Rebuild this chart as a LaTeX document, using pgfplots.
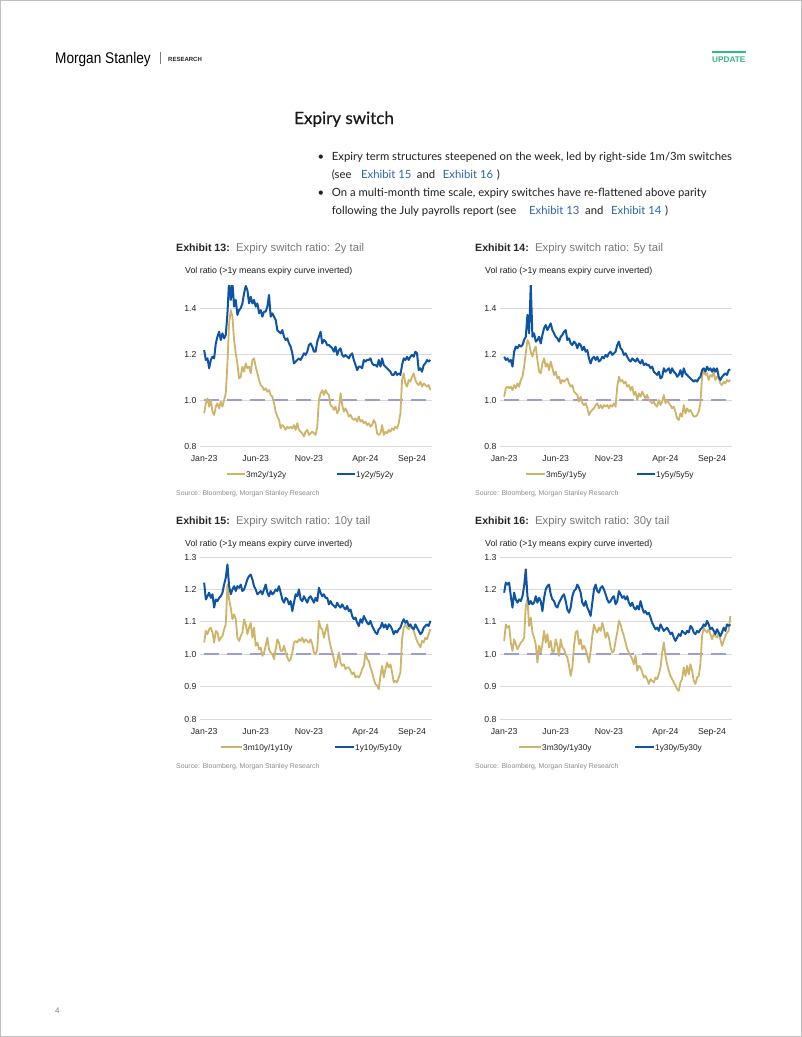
\documentclass[border=0pt]{standalone}
\usepackage{fontspec}
\usepackage{pgfplots}
\pgfplotsset{compat=1.18}
\usepackage{pgfplotstable}
\setmainfont{Liberation Sans}
\newfontfamily\bodyfont{Lato}
\newfontfamily\headfont[FakeBold=0.5]{Lato}
\definecolor{msgold}{RGB}{206,180,104}
\definecolor{msblue}{RGB}{14,84,164}
\definecolor{mslav}{RGB}{156,156,219}
\definecolor{msgrid}{RGB}{217,217,217}
\definecolor{mslink}{RGB}{46,100,176}
\definecolor{msgreen}{RGB}{52,184,130}
\definecolor{mstitle}{RGB}{38,38,38}
\definecolor{mssub}{RGB}{120,120,120}
\definecolor{mssrc}{RGB}{140,140,140}

\pgfplotstableread{
i b13 g13 b14 g14 b15 g15 b16 g16
0 1.217 0.942 1.188 1.014 1.221 1.036 1.190 1.041
1 1.174 0.986 1.174 1.051 1.169 1.072 1.221 1.092
2 1.181 1.007 1.181 1.058 1.179 1.062 1.215 1.082
3 1.138 0.971 1.167 1.051 1.190 1.077 1.221 1.087
4 1.174 1.000 1.174 1.058 1.174 1.082 1.179 1.036
5 1.188 0.949 1.145 1.043 1.185 1.067 1.144 1.010
6 1.181 0.935 1.210 1.065 1.144 1.036 1.190 1.046
7 1.246 0.971 1.232 1.051 1.169 1.072 1.169 1.031
8 1.275 0.986 1.225 1.072 1.164 1.067 1.159 1.015
9 1.297 0.964 1.239 1.058 1.174 1.041 1.169 1.026
10 1.261 0.993 1.232 1.087 1.179 1.051 1.164 1.036
11 1.290 0.971 1.239 1.101 1.190 1.056 1.179 1.041
12 1.268 1.000 1.261 1.145 1.215 1.077 1.210 1.051
13 1.283 1.029 1.275 1.203 1.236 1.092 1.262 1.149
14 1.377 1.159 1.370 1.261 1.277 1.215 1.179 1.169
15 1.520 1.333 1.290 1.246 1.210 1.169 1.154 1.087
16 1.435 1.391 1.500 1.210 1.185 1.144 1.164 1.113
17 1.510 1.362 1.275 1.188 1.200 1.108 1.154 1.067
18 1.406 1.261 1.290 1.217 1.210 1.123 1.159 1.051
19 1.435 1.203 1.254 1.232 1.195 1.108 1.179 1.031
20 1.370 1.159 1.261 1.174 1.210 1.051 1.159 0.974
21 1.391 1.094 1.275 1.123 1.205 1.041 1.174 1.026
22 1.399 1.101 1.246 1.116 1.215 1.056 1.164 1.005
23 1.420 1.145 1.283 1.159 1.195 1.067 1.133 1.031
24 1.464 1.123 1.312 1.181 1.200 1.108 1.174 1.072
25 1.496 1.159 1.326 1.145 1.215 1.092 1.200 1.036
26 1.478 1.138 1.304 1.159 1.231 1.062 1.210 1.062
27 1.420 1.145 1.319 1.130 1.241 1.082 1.215 1.021
28 1.449 1.116 1.333 1.167 1.246 1.097 1.185 1.041
29 1.420 1.174 1.304 1.138 1.231 1.051 1.169 1.005
30 1.435 1.181 1.290 1.109 1.210 1.082 1.164 1.010
31 1.406 1.145 1.275 1.123 1.200 1.026 1.149 1.046
32 1.420 1.116 1.268 1.094 1.185 1.036 1.144 1.026
33 1.377 1.087 1.254 1.101 1.190 1.015 1.159 0.995
34 1.391 1.065 1.275 1.072 1.195 1.021 1.169 1.046
35 1.362 1.058 1.283 1.087 1.185 0.995 1.179 1.021
36 1.384 1.043 1.297 1.080 1.200 1.005 1.185 1.015
37 1.384 1.051 1.304 1.087 1.215 1.026 1.164 1.000
38 1.406 1.036 1.261 1.094 1.190 1.051 1.138 0.990
39 1.457 1.043 1.268 1.072 1.179 1.015 1.128 0.964
40 1.362 1.022 1.246 1.058 1.195 1.005 1.144 0.933
41 1.377 1.014 1.239 1.065 1.185 1.000 1.179 0.959
42 1.362 0.986 1.254 1.036 1.190 0.985 1.195 1.026
43 1.348 0.949 1.246 1.029 1.200 1.015 1.200 1.067
44 1.304 0.928 1.225 1.022 1.195 1.046 1.215 1.072
45 1.297 0.913 1.246 0.993 1.210 1.036 1.205 1.031
46 1.290 0.877 1.239 1.014 1.190 1.010 1.190 1.046
47 1.304 0.891 1.217 0.986 1.169 1.010 1.159 1.015
48 1.275 0.884 1.232 0.978 1.159 1.026 1.149 1.026
49 1.261 0.870 1.210 0.986 1.174 1.005 1.164 1.015
50 1.268 0.884 1.217 0.964 1.169 0.990 1.144 0.995
51 1.246 0.877 1.181 0.935 1.154 0.979 1.133 0.974
52 1.232 0.884 1.159 0.949 1.164 0.985 1.118 1.010
53 1.203 0.877 1.181 0.957 1.133 1.005 1.159 1.056
54 1.159 0.891 1.188 0.964 1.159 1.036 1.200 1.092
55 1.167 0.870 1.174 0.978 1.185 1.041 1.215 1.077
56 1.174 0.899 1.188 0.986 1.179 1.036 1.195 1.067
57 1.181 0.870 1.167 0.964 1.200 1.046 1.190 1.082
58 1.174 0.862 1.174 0.978 1.169 1.041 1.205 1.072
59 1.188 0.855 1.188 0.964 1.164 1.051 1.210 1.097
60 1.203 0.841 1.181 0.978 1.179 1.036 1.200 1.077
61 1.196 0.862 1.196 0.971 1.169 1.046 1.185 1.051
62 1.210 0.870 1.188 0.978 1.159 1.041 1.169 1.067
63 1.239 0.848 1.203 0.964 1.174 1.036 1.159 1.051
64 1.246 0.855 1.210 0.978 1.179 1.046 1.164 1.021
65 1.232 0.862 1.196 0.971 1.169 1.031 1.174 1.005
66 1.210 0.855 1.203 0.986 1.159 1.005 1.179 1.010
67 1.210 0.848 1.210 0.971 1.174 1.000 1.154 1.041
68 1.254 0.884 1.239 1.058 1.164 1.015 1.164 1.067
69 1.275 1.000 1.254 1.101 1.205 1.103 1.195 1.103
70 1.297 1.029 1.225 1.080 1.190 1.082 1.185 1.092
71 1.246 1.043 1.217 1.087 1.179 1.077 1.174 1.072
72 1.261 1.022 1.196 1.072 1.185 1.051 1.179 1.056
73 1.254 1.043 1.203 1.080 1.174 1.072 1.169 1.036
74 1.239 1.029 1.188 1.058 1.174 1.092 1.179 1.015
75 1.239 1.022 1.174 1.065 1.154 1.051 1.159 1.005
76 1.232 0.978 1.167 1.043 1.164 1.026 1.149 0.995
77 1.225 0.971 1.181 1.058 1.154 1.005 1.159 0.985
78 1.210 0.957 1.174 1.022 1.149 0.985 1.144 0.969
79 1.232 0.971 1.167 1.036 1.144 0.959 1.138 0.995
80 1.196 0.942 1.181 1.000 1.159 0.979 1.149 0.949
81 1.217 0.957 1.167 1.029 1.149 1.005 1.138 0.964
82 1.225 1.029 1.159 1.014 1.144 0.974 1.164 0.959
83 1.196 0.978 1.174 1.036 1.154 0.964 1.144 0.944
84 1.188 0.949 1.152 1.022 1.144 0.969 1.128 0.928
85 1.196 0.964 1.159 1.007 1.138 0.954 1.133 0.933
86 1.188 0.949 1.152 1.022 1.149 0.959 1.123 0.923
87 1.181 0.928 1.152 1.000 1.133 0.959 1.128 0.908
88 1.196 0.935 1.138 0.993 1.138 0.949 1.113 0.923
89 1.203 0.920 1.145 0.986 1.118 0.938 1.097 0.918
90 1.174 0.913 1.123 0.993 1.108 0.944 1.087 0.913
91 1.152 0.920 1.116 0.978 1.113 0.928 1.077 0.928
92 1.130 0.906 1.109 0.971 1.097 0.933 1.082 0.923
93 1.145 0.928 1.123 1.000 1.087 0.928 1.072 0.938
94 1.145 0.906 1.094 0.978 1.108 0.938 1.092 0.959
95 1.138 0.913 1.101 0.993 1.097 0.954 1.082 1.005
96 1.174 0.899 1.138 1.022 1.118 0.964 1.072 1.036
97 1.167 0.906 1.123 0.986 1.108 1.005 1.077 0.995
98 1.174 0.891 1.130 1.000 1.097 0.985 1.082 0.969
99 1.174 0.899 1.138 0.986 1.092 0.979 1.072 0.949
100 1.181 0.884 1.116 0.978 1.103 0.959 1.062 0.933
101 1.159 0.891 1.138 0.964 1.087 0.944 1.067 0.923
102 1.152 0.913 1.123 0.971 1.077 0.923 1.051 0.913
103 1.152 0.899 1.116 0.949 1.067 0.908 1.041 0.903
104 1.145 0.855 1.101 0.920 1.062 0.903 1.051 0.892
105 1.174 0.848 1.109 0.913 1.077 0.892 1.062 0.887
106 1.145 0.855 1.130 0.942 1.082 0.933 1.056 0.913
107 1.181 0.891 1.101 0.928 1.097 0.964 1.072 0.923
108 1.152 0.848 1.138 0.978 1.082 0.928 1.067 0.959
109 1.145 0.862 1.116 0.942 1.092 0.954 1.062 0.933
110 1.138 0.855 1.109 0.964 1.077 0.974 1.072 0.964
111 1.130 0.870 1.101 0.949 1.092 0.959 1.067 0.938
112 1.123 0.862 1.094 0.957 1.087 0.969 1.087 0.969
113 1.109 0.877 1.087 0.942 1.077 0.944 1.082 0.949
114 1.109 0.870 1.080 0.928 1.062 0.913 1.067 0.918
115 1.123 0.884 1.087 0.928 1.072 0.918 1.062 0.908
116 1.109 0.877 1.080 0.935 1.067 0.913 1.072 0.928
117 1.116 0.899 1.094 0.949 1.077 0.928 1.067 0.933
118 1.109 0.942 1.101 0.986 1.082 0.944 1.077 0.969
119 1.152 1.087 1.130 1.101 1.097 1.046 1.082 1.056
120 1.181 1.116 1.138 1.130 1.108 1.082 1.092 1.082
121 1.174 1.072 1.123 1.109 1.097 1.092 1.087 1.072
122 1.188 1.058 1.145 1.116 1.103 1.082 1.103 1.067
123 1.174 1.087 1.130 1.087 1.087 1.077 1.092 1.077
124 1.188 1.080 1.138 1.109 1.092 1.087 1.077 1.062
125 1.196 1.101 1.123 1.101 1.082 1.082 1.082 1.046
126 1.188 1.116 1.138 1.123 1.077 1.072 1.072 1.062
127 1.210 1.087 1.123 1.087 1.092 1.056 1.062 1.056
128 1.203 1.072 1.138 1.101 1.082 1.041 1.077 1.051
129 1.130 1.065 1.101 1.094 1.072 1.031 1.067 1.067
130 1.138 1.080 1.087 1.072 1.062 1.021 1.056 1.046
131 1.123 1.058 1.101 1.065 1.067 1.041 1.067 1.026
132 1.152 1.072 1.109 1.080 1.082 1.036 1.082 1.041
133 1.159 1.065 1.116 1.072 1.087 1.051 1.072 1.056
134 1.174 1.058 1.109 1.087 1.092 1.046 1.092 1.067
135 1.167 1.065 1.130 1.080 1.087 1.062 1.087 1.072
136 1.174 1.043 1.133 1.087 1.103 1.077 1.092 1.118
}\data

\pgfkeys{/pgf/number format/assume math mode=true}
\pgfplotsset{expiry/.style={
  scale only axis, width=232pt, anchor=south west,
  xmin=-2.5, xmax=137,
  axis line style={draw=none},
  tick style={draw=none}, major tick length=0pt,
  ymajorgrids, grid style={msgrid, line width=0.8pt},
  xtick={0,31,63,97,125},
  xticklabels={Jan-23,Jun-23,Nov-23,Apr-24,Sep-24},
  ticklabel style={font=\fontsize{8.7}{10}\selectfont, text=black!85},
  xticklabel style={yshift=-6pt},
  yticklabel style={/pgf/number format/fixed, /pgf/number format/fixed zerofill, /pgf/number format/precision=1},
  every axis plot/.append style={line join=round},
}}
\tikzset{parity/.style={mslav, line width=1.8pt, dash pattern=on 15pt off 8pt}}

\begin{document}
\begin{tikzpicture}
\useasboundingbox (0,0) rectangle (802pt,-1037pt);
\fill[white] (0,0) rectangle (802pt,-1037pt);
\draw[black!25, line width=0.8pt] (0.4pt,-0.4pt) rectangle (801.6pt,-1036.6pt);

% header
\node[anchor=base west, inner sep=0, font=\fontsize{15.5}{16}\selectfont, xscale=0.88, text=black] at (55pt,-63pt) {Morgan Stanley};
\draw[black!50, line width=0.6pt] (160pt,-52pt) -- (160pt,-64pt);
\node[anchor=base west, inner sep=0, font=\bfseries\fontsize{6}{7}\selectfont, text=black!85] at (168pt,-61pt) {RESEARCH};
\fill[msgreen] (712pt,-50.5pt) rectangle (746pt,-52.5pt);
\node[anchor=base west, inner sep=0, font=\bfseries\fontsize{8.2}{9}\selectfont, text=msgreen] at (712pt,-62pt) {UPDATE};

% section text
\node[anchor=base west, inner sep=0, font=\headfont\fontsize{17}{20}\selectfont, text=black!90] at (294pt,-124pt) {Expiry switch};
\begin{scope}[every node/.style={anchor=base west, inner sep=0, font=\bodyfont\fontsize{11.3}{13}\selectfont, text=black!88}]
\node[anchor=base] at (321pt,-160pt) {\textbullet};
\node at (331.7pt,-160pt) {Expiry term structures steepened on the week, led by right-side 1m/3m switches};
\node at (331.7pt,-178pt) {(see};
\node[text=mslink] at (361pt,-178pt) {Exhibit 15};
\node at (416.7pt,-178pt) {and};
\node[text=mslink] at (442.7pt,-178pt) {Exhibit 16};
\node at (496.7pt,-178pt) {)};
\node[anchor=base] at (321pt,-196.5pt) {\textbullet};
\node at (331.7pt,-196.5pt) {On a multi-month time scale, expiry switches have re-flattened above parity};
\node at (331.7pt,-214.5pt) {following the July payrolls report (see};
\node[text=mslink] at (529pt,-214.5pt) {Exhibit 13};
\node at (585pt,-214.5pt) {and};
\node[text=mslink] at (611pt,-214.5pt) {Exhibit 14};
\node at (665pt,-214.5pt) {)};
\end{scope}

\tikzset{ttl/.style={anchor=base west, inner sep=0, font=\bfseries\fontsize{10.6}{12}\selectfont, text=mstitle},
  sub/.style={anchor=base west, inner sep=0, font=\fontsize{11.3}{13}\selectfont, text=mssub},
  vr/.style={anchor=base west, inner sep=0, font=\fontsize{8.8}{10}\selectfont, text=black!88},
  lg/.style={anchor=base west, inner sep=0, font=\fontsize{8.3}{9}\selectfont, text=black!88},
  src/.style={anchor=base west, inner sep=0, font=\fontsize{6.9}{8}\selectfont, text=mssrc}}

% ---------- Exhibit 13
\node[ttl] at (176pt,-251pt) {Exhibit 13:};
\node[sub] at (236pt,-251pt) {Expiry switch ratio: 2y tail};
\node[vr] at (185pt,-273.8pt) {Vol ratio (>1y means expiry curve inverted)};
\begin{axis}[expiry, at={(200pt,-446pt)}, height=161pt, ymin=0.8, ymax=1.5, ytick={0.8,1.0,1.2,1.4}]
\addplot[parity] coordinates {(0,1) (136,1)};
\addplot[msgold, line width=1.8pt] table[x=i, y=g13] {\data};
\addplot[msblue, line width=2pt] table[x=i, y=b13] {\data};
\end{axis}
\draw[msgold, line width=2.2pt] (227pt,-474.3pt) -- (245pt,-474.3pt);
\node[lg] at (246pt,-477.3pt) {3m2y/1y2y};
\draw[msblue, line width=2.2pt] (337pt,-474.3pt) -- (355pt,-474.3pt);
\node[lg] at (356pt,-477.3pt) {1y2y/5y2y};
\node[src] at (176pt,-495.8pt) {Source: Bloomberg, Morgan Stanley Research};

% ---------- Exhibit 14
\node[ttl] at (475pt,-251pt) {Exhibit 14:};
\node[sub] at (535pt,-251pt) {Expiry switch ratio: 5y tail};
\node[vr] at (485pt,-273.8pt) {Vol ratio (>1y means expiry curve inverted)};
\begin{axis}[expiry, at={(500pt,-446pt)}, height=161pt, ymin=0.8, ymax=1.5, ytick={0.8,1.0,1.2,1.4}]
\addplot[parity] coordinates {(0,1) (136,1)};
\addplot[msgold, line width=1.8pt] table[x=i, y=g14] {\data};
\addplot[msblue, line width=2pt] table[x=i, y=b14] {\data};
\end{axis}
\draw[msgold, line width=2.2pt] (526pt,-474.3pt) -- (545pt,-474.3pt);
\node[lg] at (546pt,-477.3pt) {3m5y/1y5y};
\draw[msblue, line width=2.2pt] (637pt,-474.3pt) -- (655pt,-474.3pt);
\node[lg] at (656pt,-477.3pt) {1y5y/5y5y};
\node[src] at (475pt,-495.8pt) {Source: Bloomberg, Morgan Stanley Research};

% ---------- Exhibit 15
\node[ttl] at (176pt,-524.4pt) {Exhibit 15:};
\node[sub] at (236pt,-524.4pt) {Expiry switch ratio: 10y tail};
\node[vr] at (185pt,-546.3pt) {Vol ratio (>1y means expiry curve inverted)};
\begin{axis}[expiry, at={(200pt,-719pt)}, height=162pt, ymin=0.8, ymax=1.3, ytick={0.8,0.9,1.0,1.1,1.2,1.3}]
\addplot[parity] coordinates {(0,1) (136,1)};
\addplot[msgold, line width=1.8pt] table[x=i, y=g15] {\data};
\addplot[msblue, line width=2pt] table[x=i, y=b15] {\data};
\end{axis}
\draw[msgold, line width=2.2pt] (221pt,-747.3pt) -- (242pt,-747.3pt);
\node[lg] at (243pt,-750.3pt) {3m10y/1y10y};
\draw[msblue, line width=2.2pt] (335pt,-747.3pt) -- (354pt,-747.3pt);
\node[lg] at (355pt,-750.3pt) {1y10y/5y10y};
\node[src] at (176pt,-768.8pt) {Source: Bloomberg, Morgan Stanley Research};

% ---------- Exhibit 16
\node[ttl] at (475pt,-524.4pt) {Exhibit 16:};
\node[sub] at (535pt,-524.4pt) {Expiry switch ratio: 30y tail};
\node[vr] at (485pt,-546.3pt) {Vol ratio (>1y means expiry curve inverted)};
\begin{axis}[expiry, at={(500pt,-719pt)}, height=162pt, ymin=0.8, ymax=1.3, ytick={0.8,0.9,1.0,1.1,1.2,1.3}]
\addplot[parity] coordinates {(0,1) (136,1)};
\addplot[msgold, line width=1.8pt] table[x=i, y=g16] {\data};
\addplot[msblue, line width=2pt] table[x=i, y=b16] {\data};
\end{axis}
\draw[msgold, line width=2.2pt] (519pt,-747.3pt) -- (541pt,-747.3pt);
\node[lg] at (542pt,-750.3pt) {3m30y/1y30y};
\draw[msblue, line width=2.2pt] (635pt,-747.3pt) -- (654pt,-747.3pt);
\node[lg] at (655pt,-750.3pt) {1y30y/5y30y};
\node[src] at (475pt,-768.8pt) {Source: Bloomberg, Morgan Stanley Research};

% page number
\node[anchor=base west, inner sep=0, font=\fontsize{8}{9}\selectfont, text=black!50] at (55pt,-1013pt) {4};
\end{tikzpicture}
\end{document}
